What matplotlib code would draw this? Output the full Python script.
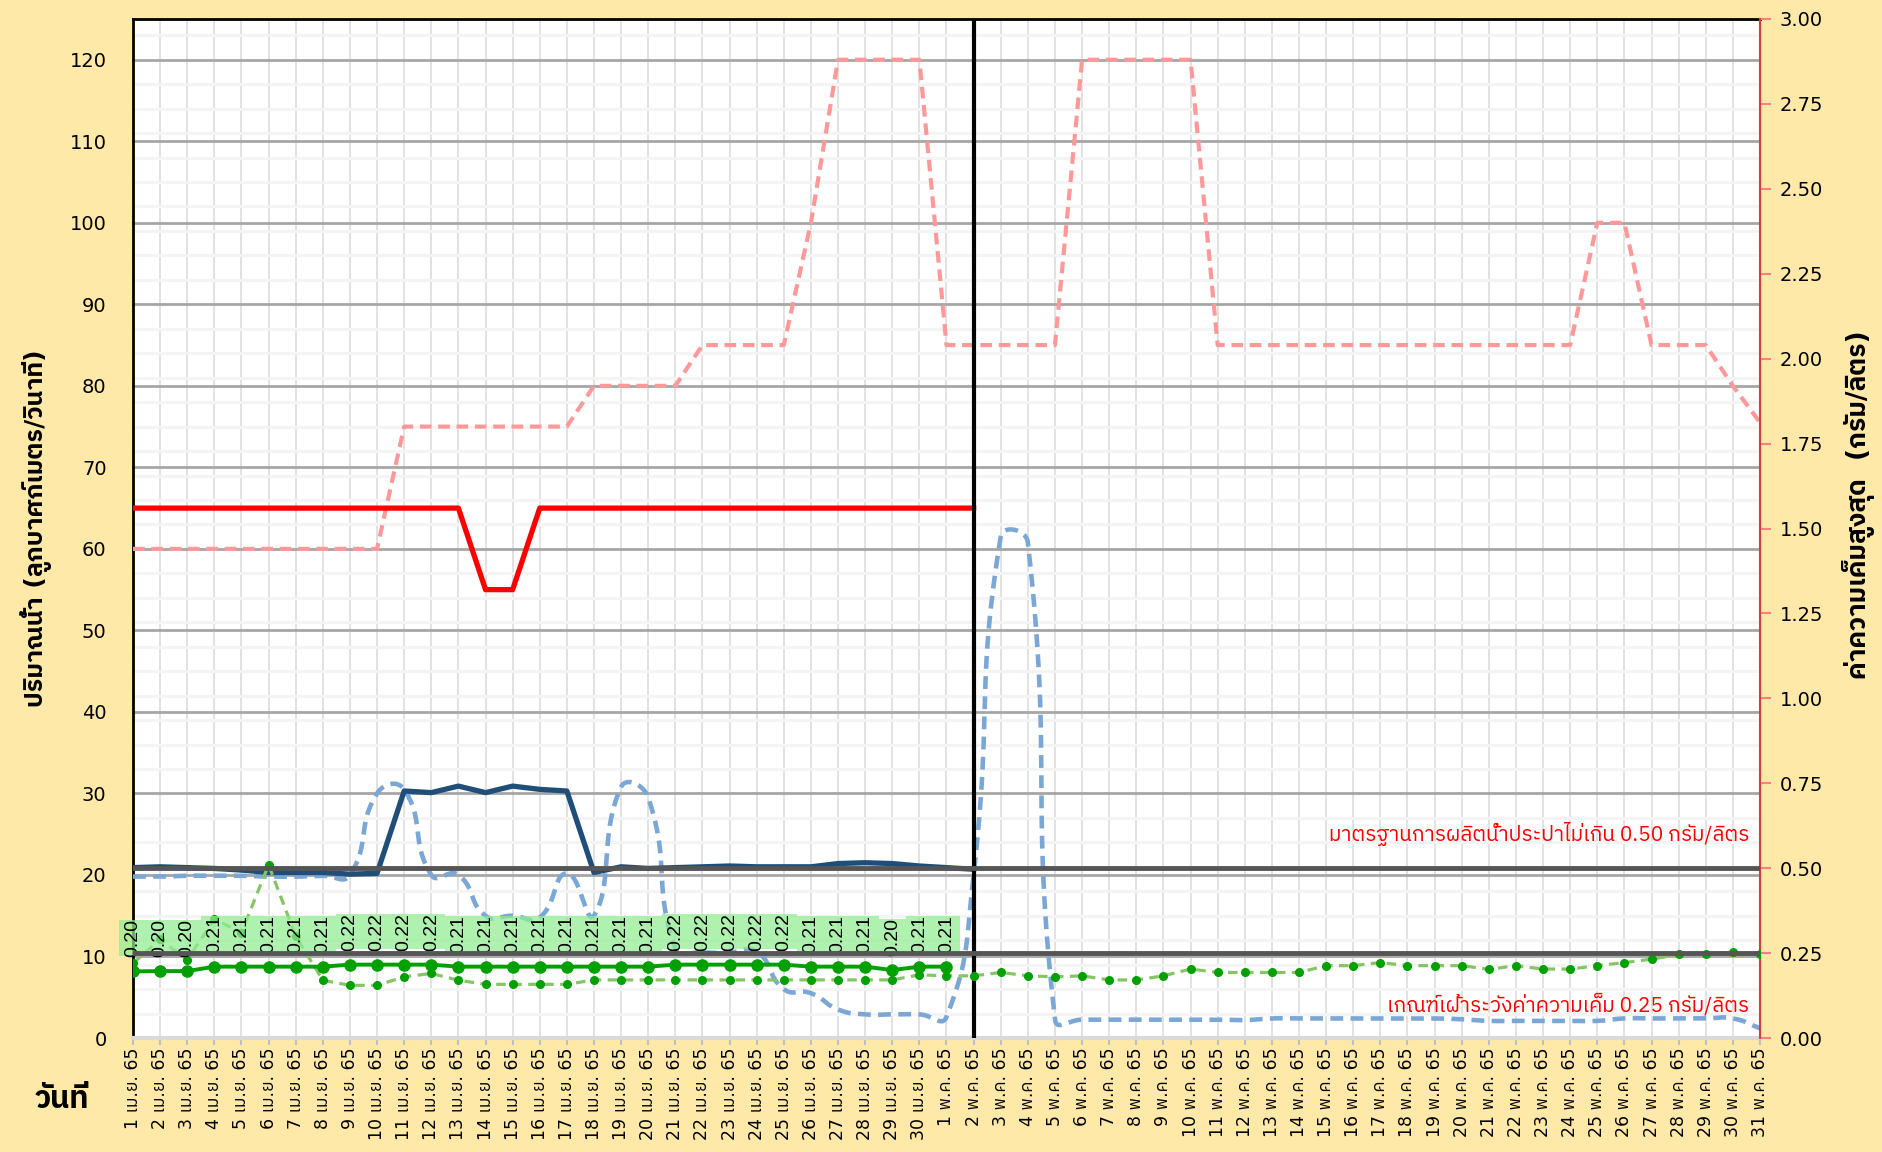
import numpy as np
import matplotlib
matplotlib.use("Agg")
import matplotlib.pyplot as plt
from matplotlib import font_manager
from matplotlib.ft2font import FT2Font
from matplotlib.patches import Rectangle

# ---- data ----
days = [f"{d} เม.ย. 65" for d in range(1, 31)] + [f"{d} พ.ค. 65" for d in range(1, 32)]

# flow (m3/s), left axis
flow_target = [65, 65, 65, 65, 65, 65, 65, 65, 65, 65, 65, 65, 65, 55, 55, 65,
               65, 65, 65, 65, 65, 65, 65, 65, 65, 65, 65, 65, 65, 65, 65, 65]
flow_actual = [20.9, 21.0, 20.9, 20.8, 20.6, 20.3, 20.3, 20.3, 20.1, 20.2, 30.3,
               30.1, 30.9, 30.1, 30.9, 30.5, 30.3, 20.3, 21.0, 20.8, 20.9, 21.0,
               21.1, 21.0, 21.0, 21.0, 21.4, 21.5, 21.4, 21.1, 20.9, 20.7]
flow_plan = [60, 60, 60, 60, 60, 60, 60, 60, 60, 60,
             75, 75, 75, 75, 75, 75, 75,
             80, 80, 80, 80,
             85, 85, 85, 85,
             100, 120, 120, 120, 120,
             85, 85, 85, 85, 85,
             120, 120, 120, 120, 120,
             85, 85, 85, 85, 85, 85, 85, 85, 85, 85, 85, 85, 85, 85,
             100, 100,
             85, 85, 85,
             80, 75.5]
flow_last_year = [19.8, 19.8, 19.9, 19.9, 19.9, 19.8, 19.8, 19.9, 20.0, 30.0,
                  30.5, 20.0, 20.0, 15.0, 15.0, 14.8, 20.2, 15.0, 30.8, 29.5,
                  11.0, 10.5, 10.5, 10.6, 6.0, 5.5, 3.5, 2.9, 2.9, 2.9,
                  2.6, 20.0, 61.5, 60.8, 2.3, 2.25, 2.25, 2.25, 2.25, 2.25,
                  2.25, 2.2, 2.4, 2.4, 2.4, 2.4, 2.4, 2.4, 2.4, 2.3,
                  2.1, 2.1, 2.1, 2.1, 2.1, 2.4, 2.4, 2.4, 2.4, 2.4, 1.2]

# salinity (g/l), right axis
salt_actual = [0.196, 0.197, 0.197, 0.210, 0.210, 0.210, 0.210, 0.210, 0.216, 0.216,
               0.216, 0.216, 0.210, 0.210, 0.210, 0.210, 0.210, 0.210, 0.210, 0.210,
               0.216, 0.216, 0.216, 0.216, 0.216, 0.210, 0.210, 0.210, 0.200, 0.210,
               0.210]
salt_last_year = [0.22, 0.29, 0.23, 0.35, 0.31, 0.51, 0.30, 0.17, 0.155, 0.155,
                  0.18, 0.19, 0.17, 0.158, 0.158, 0.158, 0.158, 0.171, 0.171, 0.171,
                  0.171, 0.171, 0.171, 0.171, 0.171, 0.171, 0.171, 0.171, 0.171, 0.186,
                  0.183, 0.183, 0.193, 0.183, 0.18, 0.183, 0.171, 0.171, 0.183, 0.203,
                  0.193, 0.193, 0.193, 0.193, 0.213, 0.213, 0.222, 0.213, 0.213, 0.213,
                  0.202, 0.213, 0.203, 0.203, 0.213, 0.222, 0.232, 0.246, 0.246, 0.252,
                  0.246]
std_limit = 0.50
watch_limit = 0.25
today_idx = 31


def pick_thai_font():
    found = []
    for f in font_manager.fontManager.ttflist:
        try:
            if 0x0E01 in FT2Font(f.fname).get_charmap():
                found.append(f.name)
        except Exception:
            pass
    for name in found:
        if "Sans" in name and "Mono" not in name:
            return name
    return found[0] if found else "DejaVu Sans"


thai = pick_thai_font()
plt.rcParams['font.family'] = ['DejaVu Sans', thai]


def excel_smooth(x, y, sx, sy, k=0.5, n=24):
    # bezier smoothing in screen space, tangent scaled by segment length
    p = np.column_stack([np.asarray(x, float) * sx, np.asarray(y, float) * sy])
    out = [p[0]]
    m = len(p)
    for i in range(m - 1):
        p0 = p[i - 1] if i > 0 else p[i]
        p1 = p[i]
        p2 = p[i + 1]
        p3 = p[i + 2] if i + 2 < m else p[i + 1]
        d01 = np.hypot(*(p1 - p0))
        d12 = np.hypot(*(p2 - p1))
        d23 = np.hypot(*(p3 - p2))
        f1 = d12 / (d01 + d12) if d01 + d12 > 0 else 0
        f2 = d12 / (d12 + d23) if d12 + d23 > 0 else 0
        c1 = p1 + (p2 - p0) * f1 * k
        c2 = p2 - (p3 - p1) * f2 * k
        t = np.linspace(0, 1, n)[1:, None]
        seg = ((1 - t) ** 3) * p1 + 3 * ((1 - t) ** 2) * t * c1 + 3 * (1 - t) * t ** 2 * c2 + t ** 3 * p2
        out.extend(seg)
    out = np.array(out)
    return out[:, 0] / sx, out[:, 1] / sy


# ---- figure ----
W, H = 1883, 1152
fig = plt.figure(figsize=(W / 100, H / 100), dpi=100, facecolor='#FFE9A9')
ax = fig.add_axes([133 / W, 1 - 1038 / H, (1760 - 133) / W, (1038 - 19) / H])
ax.set_facecolor('white')
ax2 = ax.twinx()

x_all = np.arange(len(days))
ax.set_xlim(0, len(days) - 1)
ax.set_ylim(0, 125)
ax2.set_ylim(0, 3)

# grids
ax.set_xticks(x_all)
ax.set_xticklabels(days, rotation=90, fontsize=12.5)
ax.set_yticks(np.arange(0, 121, 10))
ax.set_yticks(np.arange(0, 126, 3), minor=True)
ax.grid(which='minor', axis='y', color='#F4F4F4', lw=2.2, zorder=0)
ax.grid(which='major', axis='y', color='#A6A6A6', lw=2, zorder=0)
ax.grid(which='major', axis='x', color='#DDDDDD', lw=1.2, zorder=0)
ax.set_axisbelow(True)
ax.tick_params(axis='y', which='both', length=0, pad=19, labelsize=14)
ax.tick_params(axis='x', length=5, color='#BFBFBF', width=1.5, pad=2)
ax2.set_yticks(np.arange(0, 3.01, 0.25))
ax2.set_yticklabels([f"{v:.2f}" for v in np.arange(0, 3.01, 0.25)])
ax2.tick_params(axis='y', length=8, color='#FF8080', width=1.5, pad=6, labelsize=14)

for s in ['left', 'top']:
    ax.spines[s].set_linewidth(2)
    ax.spines[s].set_color('black')
ax.spines['bottom'].set_color('#D9D9D9')
ax.spines['bottom'].set_linewidth(3)
ax2.spines['right'].set_color('#D04040')
ax2.spines['right'].set_linewidth(1.5)
for s in ['left', 'top', 'bottom']:
    ax2.spines[s].set_visible(False)

# screen scale for smoothing
pos = ax.get_position()
sx = pos.width * W / (len(days) - 1)
sy = pos.height * H / 125

# left-axis series
ax.plot(x_all, flow_plan, color='#FF9999', lw=3, dashes=(2.8, 1.6), zorder=3)
ax.plot(np.arange(len(flow_target)), flow_target, color='#FF0000', lw=3.8, zorder=4)
lx, ly = excel_smooth(x_all, flow_last_year, sx, sy)
ax.plot(lx, ly, color='#7BA7D6', lw=3.3, dashes=(2.8, 1.6), zorder=5)
ax.plot(np.arange(len(flow_actual)), flow_actual, color='#1F4E79', lw=3.8, zorder=6)
ax.axvline(today_idx, color='black', lw=3, zorder=7)

# right-axis series
ax2.plot(x_all, salt_last_year, color='#86C466', lw=2.3, dashes=(3, 2),
         marker='o', ms=5.5, mfc='#00A000', mec='#00A000', zorder=3)
xa = np.arange(len(salt_actual))
ax2.plot(xa, salt_actual, color='#00A000', lw=2.8, marker='o', ms=8, zorder=4)
for i, v in zip(xa, salt_actual):
    ax2.add_patch(Rectangle((i - 0.5, v + 0.045), 1, 0.105, facecolor='#90EE90',
                            alpha=0.72, edgecolor='none', zorder=5, clip_on=False))
    ax2.text(i, v + 0.045 + 0.0525, f"{v:.2f}", rotation=90, ha='center', va='center',
             fontsize=14, family='Liberation Sans', color='black', zorder=6)

ax2.axhline(std_limit, color='#555555', lw=3.5, zorder=7)
ax2.axhline(watch_limit, color='#555555', lw=3.5, zorder=7)
ax2.text(59.6, 0.60, "มาตรฐานการผลิตน้ำประปาไม่เกิน 0.50 กรัม/ลิตร", color='red',
         fontsize=15, ha='right', va='center', zorder=8, family=[thai, 'DejaVu Sans'])
ax2.text(59.6, 0.10, "เกณฑ์เฝ้าระวังค่าความเค็ม 0.25 กรัม/ลิตร", color='red',
         fontsize=15, ha='right', va='center', zorder=8, family=[thai, 'DejaVu Sans'])

# axis titles
fig.text(36 / W, 1 - 528 / H, "ปริมาณน้ำ (ลูกบาศก์เมตร/วินาที)", rotation=90,
         fontsize=18, fontweight='bold', ha='center', va='center')
fig.text(1859 / W, 1 - 505 / H, "ค่าความเค็มสูงสุด  (กรัม/ลิตร)", rotation=90,
         fontsize=19, fontweight='bold', ha='center', va='center')
fig.text(62 / W, 1 - 1100 / H, "วันที่", fontsize=22, fontweight='bold',
         ha='center', va='center')

fig.savefig("out.png", dpi=100, facecolor=fig.get_facecolor())
